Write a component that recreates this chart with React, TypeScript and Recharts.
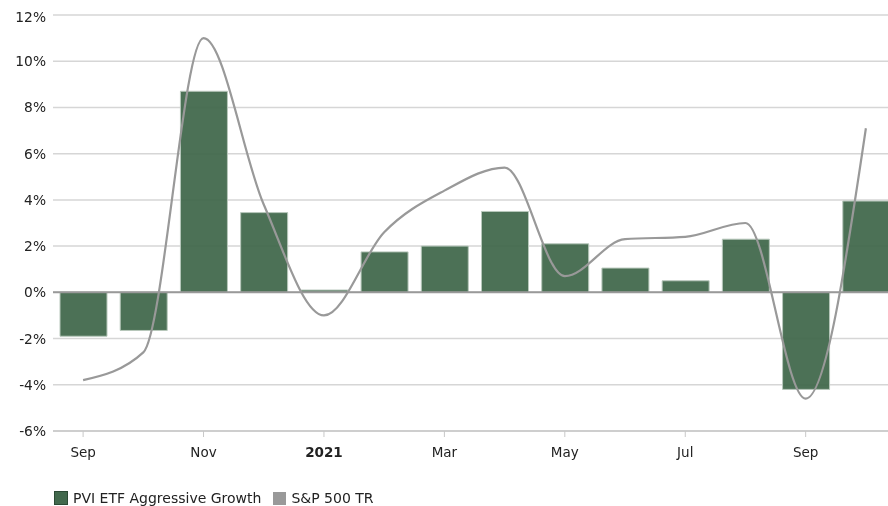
import React from "react";
import {
  ComposedChart,
  Bar,
  Line,
  XAxis,
  YAxis,
  CartesianGrid,
  ReferenceLine,
} from "recharts";

const MONTHS = ["Sep", "Oct", "Nov", "Dec", "2021", "Feb", "Mar", "Apr", "May", "Jun", "Jul", "Aug", "Sep", "Oct"];
const PVI = [-1.9, -1.65, 8.7, 3.45, 0.1, 1.75, 2.0, 3.5, 2.1, 1.05, 0.5, 2.3, -4.2, 3.95];
const SP500 = [-3.8, -2.6, 11.0, 3.8, -1.0, 2.6, 4.4, 5.4, 0.7, 2.3, 2.4, 3.0, -4.6, 7.1];
const Y_TICKS = [-6, -4, -2, 0, 2, 4, 6, 8, 10, 12];

const GREEN = "#42694d";
const GREY = "#999999";
const FONT = "'DejaVu Sans', Verdana, sans-serif";

const rows = MONTHS.map((m, i) => ({ key: i, month: m, pvi: PVI[i], sp: SP500[i] }));

function MonthTick(props: any) {
  const { x, y, payload } = props;
  const label = MONTHS[payload.value];
  return (
    <text
      x={x}
      y={y + 18}
      textAnchor="middle"
      fontSize={13.5}
      fontFamily={FONT}
      fontWeight={label === "2021" ? "bold" : "normal"}
      fill="#222"
    >
      {label}
    </text>
  );
}

function PctTick(props: any) {
  const { y, payload } = props;
  return (
    <text x={38} y={y + 5} textAnchor="end" fontSize={13.8} fontFamily={FONT} fill="#222">
      {`${payload.value}%`}
    </text>
  );
}

export default function App() {
  return (
    <div
      style={{
        position: "fixed",
        left: 8,
        top: 8,
        width: 880,
        height: 498,
        overflow: "hidden",
        fontFamily: FONT,
      }}
    >
      <ComposedChart
        width={888}
        height={470}
        data={rows}
        margin={{ top: 7, right: 0, bottom: 0, left: 0 }}
        barCategoryGap={0}
      >
        <CartesianGrid vertical={false} stroke="#d6d6d6" strokeWidth={1.5} />
        <XAxis
          dataKey="key"
          interval={1}
          height={47}
          tick={<MonthTick />}
          tickLine={{ stroke: "#c8c8c8" }}
          tickSize={6}
          axisLine={{ stroke: "#c8c8c8", strokeWidth: 1.5 }}
        />
        <YAxis
          width={45}
          domain={[-6, 12]}
          ticks={Y_TICKS}
          axisLine={false}
          tickLine={false}
          tick={<PctTick />}
        />
        <ReferenceLine y={0} stroke="#999" strokeWidth={2} />
        <Bar
          dataKey="pvi"
          name="PVI ETF Aggressive Growth"
          barSize={47}
          fill={GREEN}
          fillOpacity={0.95}
          stroke="#b8c8bc"
          strokeWidth={1}
          isAnimationActive={false}
        />
        <Line
          dataKey="sp"
          name="S&P 500 TR"
          type="monotone"
          stroke={GREY}
          strokeWidth={2.2}
          dot={false}
          isAnimationActive={false}
        />
      </ComposedChart>
      <div style={{ display: "flex", alignItems: "center", paddingLeft: 46, paddingTop: 12, fontSize: 14, color: "#222" }}>
        <span style={{ width: 12, height: 12, background: GREEN, border: "1px solid #2c4a35", marginRight: 5, display: "inline-block" }} />
        <span style={{ marginRight: 12 }}>PVI ETF Aggressive Growth</span>
        <span style={{ width: 13, height: 13, background: GREY, marginRight: 5, display: "inline-block" }} />
        <span>S&amp;P 500 TR</span>
      </div>
    </div>
  );
}
